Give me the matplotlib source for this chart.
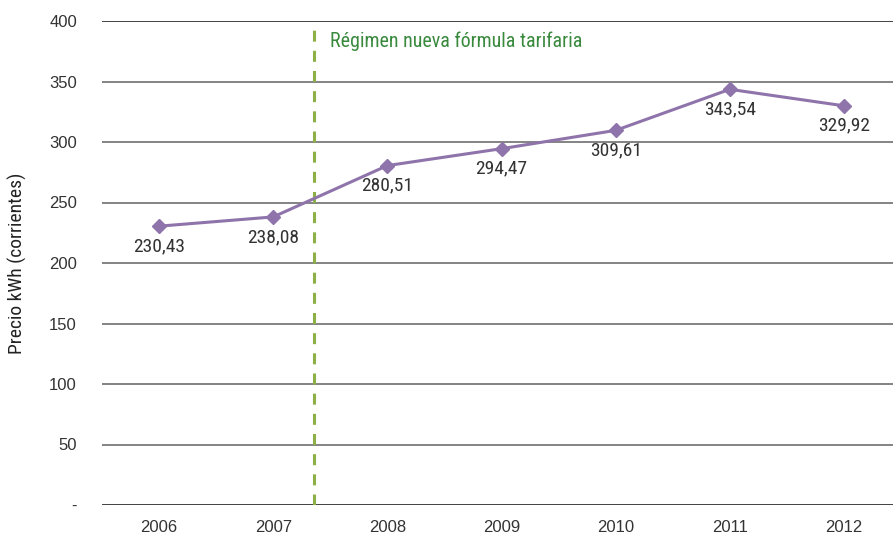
import matplotlib
matplotlib.use("Agg")
import matplotlib.pyplot as plt
from matplotlib import font_manager

years = ["2006", "2007", "2008", "2009", "2010", "2011", "2012"]
precio = [230.43, 238.08, 280.51, 294.47, 309.61, 343.54, 329.92]
etiquetas = ["230,43", "238,08", "280,51", "294,47", "309,61", "343,54", "329,92"]
yticks = [0, 50, 100, 150, 200, 250, 300, 350, 400]
ytick_labels = ["-", "50", "100", "150", "200", "250", "300", "350", "400"]
regimen_x = 1.36
regimen_label = "Régimen nueva fórmula tarifaria"

names = {f.name for f in font_manager.fontManager.ttflist}
cond = [c for c in ["Roboto Condensed", "Liberation Sans Narrow"] if c in names] + ["Liberation Sans", "DejaVu Sans"]
reg = ["Liberation Sans", "DejaVu Sans"]
plt.rcParams["font.family"] = reg

W, H = 893, 535
fig = plt.figure(figsize=(W/100, H/100), dpi=100)
left, right, top, bottom = 102, 901, 21, 505
ax = fig.add_axes([left/W, 1 - bottom/H, (right-left)/W, (bottom-top)/H])

x = list(range(len(years)))
ax.set_xlim(-0.5, len(years) - 0.5)
ax.set_ylim(0, 400)

for v in yticks:
    c = "#222222" if v in (0, 400) else "#6e6e6e"
    ax.axhline(v, color=c, lw=1.2, zorder=1)

ax.axvline(regimen_x, color="#8db046", lw=2.2, dashes=(3.6, 3.0), zorder=2)
ax.text(regimen_x + 0.14, 383.5, regimen_label, color="#3a8a3e", fontsize=14.4,
        va="center", ha="left", family=cond)

ax.plot(x, precio, color="#8e74aa", lw=2.2, marker="D", markersize=7,
        markerfacecolor="#8e74aa", markeredgecolor="#8e74aa", zorder=3)
for xi, v, lab in zip(x, precio, etiquetas):
    ax.annotate(lab, (xi, v), xytext=(0, -18), textcoords="offset points",
                ha="center", va="baseline", fontsize=14, color="#333333",
                family=cond)

ax.set_xticks(x)
ax.set_xticklabels(years, fontsize=12, color="#333333")
ax.set_yticks(yticks)
ax.set_yticklabels(ytick_labels, fontsize=12, color="#333333")
ax.tick_params(axis="both", length=0)
ax.tick_params(axis="y", pad=18)
ax.tick_params(axis="x", pad=11)
for s in ax.spines.values():
    s.set_visible(False)
ax.set_ylabel("Precio kWh (corrientes)", fontsize=14, color="#222222",
              labelpad=16, family=cond)

fig.savefig("out.png", dpi=100)
